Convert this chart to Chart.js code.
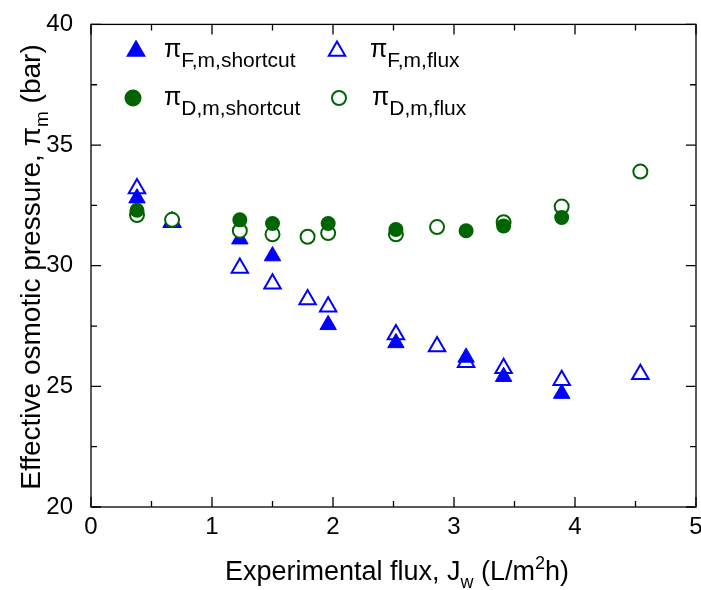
<!DOCTYPE html>
<html>
<head>
<meta charset="utf-8">
<script src="https://cdn.jsdelivr.net/npm/chart.js@4/dist/chart.umd.min.js"></script>
<style>
  html, body { margin: 0; padding: 0; background: #fff; }
  #wrap { width: 701px; height: 590px; }
</style>
</head>
<body>
<div id="wrap"><canvas id="c" width="701" height="590"></canvas></div>
<script>
'use strict';

// flux values J_w (L/m2h) and effective osmotic pressures (bar)
const FS_X = [0.38, 0.67, 1.23, 1.50, 1.96, 2.52, 3.10, 3.41, 3.89];
const FS_Y = [32.8, 31.85, 31.1, 30.4, 27.55, 26.8, 26.2, 25.4, 24.7];

const FF_X = [0.38, 0.67, 1.23, 1.50, 1.79, 1.96, 2.52, 2.86, 3.10, 3.41, 3.89, 4.54];
const FF_Y = [33.2, 31.8, 29.9, 29.25, 28.6, 28.3, 27.15, 26.65, 26.0, 25.75, 25.25, 25.5];

const DS_X = [0.38, 1.23, 1.50, 1.96, 2.52, 3.10, 3.41, 3.89];
const DS_Y = [32.3, 31.9, 31.75, 31.75, 31.5, 31.45, 31.65, 32.0];

const DF_X = [0.38, 0.67, 1.23, 1.50, 1.79, 1.96, 2.52, 2.86, 3.41, 3.89, 4.54];
const DF_Y = [32.1, 31.9, 31.45, 31.3, 31.2, 31.35, 31.3, 31.6, 31.8, 32.45, 33.9];

const X_TICKS = [0, 1, 2, 3, 4, 5];
const Y_TICKS = [20, 25, 30, 35, 40];

const BLUE = '#0000ff';
const GREEN = '#006400';
const FONT = '"Liberation Sans", Arial, sans-serif';

function pts(xs, ys) { return xs.map((x, i) => ({ x, y: ys[i] })); }

// text pieces: {t, s: 'n' | 'sub' | 'sup'}
function richWidth(ctx, parts, size, small) {
  let w = 0;
  parts.forEach(p => {
    ctx.font = (p.s === 'n' ? size : small) + 'px ' + FONT;
    w += ctx.measureText(p.t).width;
  });
  return w;
}
function drawRich(ctx, parts, x, y, size, small, subDy, supDy) {
  parts.forEach(p => {
    ctx.font = (p.s === 'n' ? size : small) + 'px ' + FONT;
    const dy = p.s === 'sub' ? subDy : p.s === 'sup' ? -supDy : 0;
    ctx.fillText(p.t, x, y + dy);
    x += ctx.measureText(p.t).width;
  });
}

const LEGEND = [
  { label: 'F,m,shortcut', style: 'triangle', fill: BLUE, stroke: BLUE, r: 9.5, mx: 136, my: 51, tx: 164, ty: 57 },
  { label: 'D,m,shortcut', style: 'circle', fill: GREEN, stroke: GREEN, r: 7.5, mx: 133, my: 98, tx: 164, ty: 105 },
  { label: 'F,m,flux', style: 'triangle', fill: '#fff', stroke: BLUE, r: 9.5, mx: 337, my: 51, tx: 370, ty: 57 },
  { label: 'D,m,flux', style: 'circle', fill: '#fff', stroke: GREEN, r: 7, mx: 339, my: 98, tx: 372, ty: 105 },
];

const decor = {
  id: 'decor',
  afterDraw(chart) {
    const ctx = chart.ctx;
    const a = chart.chartArea;
    const xs = chart.scales.x, ys = chart.scales.y;
    ctx.save();
    ctx.strokeStyle = '#000';
    ctx.lineWidth = 1.3;
    ctx.strokeRect(a.left, a.top, a.right - a.left, a.bottom - a.top);

    // inward ticks on all four sides
    ctx.beginPath();
    for (let v = 0; v <= 5.001; v += 0.5) {
      const p = xs.getPixelForValue(v);
      const len = Math.abs(v - Math.round(v)) < 1e-6 ? 10 : 6;
      ctx.moveTo(p, a.bottom); ctx.lineTo(p, a.bottom - len);
      ctx.moveTo(p, a.top); ctx.lineTo(p, a.top + len);
    }
    for (let v = 20; v <= 40.001; v += 2.5) {
      const p = ys.getPixelForValue(v);
      const len = Math.abs(v / 5 - Math.round(v / 5)) < 1e-6 ? 10 : 6;
      ctx.moveTo(a.left, p); ctx.lineTo(a.left + len, p);
      ctx.moveTo(a.right, p); ctx.lineTo(a.right - len, p);
    }
    ctx.stroke();

    // x tick labels (drawn here so the last one may run off the edge like the original)
    ctx.fillStyle = '#000';
    ctx.font = '24px ' + FONT;
    ctx.textAlign = 'center';
    ctx.textBaseline = 'top';
    X_TICKS.forEach(v => ctx.fillText(String(v), xs.getPixelForValue(v), a.bottom + 8));

    // legend
    ctx.textBaseline = 'alphabetic';
    ctx.textAlign = 'left';
    LEGEND.forEach(l => {
      ctx.fillStyle = l.fill;
      ctx.strokeStyle = l.stroke;
      ctx.lineWidth = 2;
      ctx.beginPath();
      if (l.style === 'circle') {
        ctx.arc(l.mx, l.my, l.r, 0, Math.PI * 2);
      } else {
        const r = l.r;
        ctx.moveTo(l.mx, l.my - r);
        ctx.lineTo(l.mx + r * 0.866, l.my + r * 0.5);
        ctx.lineTo(l.mx - r * 0.866, l.my + r * 0.5);
        ctx.closePath();
      }
      ctx.fill();
      ctx.stroke();
      ctx.fillStyle = '#000';
      drawRich(ctx, [{ t: 'π', s: 'n' }, { t: l.label, s: 'sub' }], l.tx, l.ty, 25, 21, 10, 0);
    });

    // x axis title
    const xt = [
      { t: 'Experimental flux, J', s: 'n' }, { t: 'w', s: 'sub' },
      { t: ' (L/m', s: 'n' }, { t: '2', s: 'sup' }, { t: 'h)', s: 'n' }
    ];
    const xw = richWidth(ctx, xt, 27, 18);
    drawRich(ctx, xt, 397 - xw / 2, 580, 27, 18, 8, 11);

    // y axis title
    const yt = [
      { t: 'Effective osmotic pressure, π', s: 'n' }, { t: 'm', s: 'sub' },
      { t: ' (bar)', s: 'n' }
    ];
    const yw = richWidth(ctx, yt, 28, 19);
    ctx.translate(40, 267);
    ctx.rotate(-Math.PI / 2);
    drawRich(ctx, yt, -yw / 2, 0, 28, 19, 8, 0);
    ctx.restore();
  }
};

new Chart(document.getElementById('c'), {
  type: 'scatter',
  data: {
    datasets: [
      { label: 'D shortcut', data: pts(DS_X, DS_Y), pointStyle: 'circle', pointRadius: 7.5,
        backgroundColor: GREEN, borderColor: GREEN, borderWidth: 0, order: 0 },
      { label: 'D flux', data: pts(DF_X, DF_Y), pointStyle: 'circle', pointRadius: 7,
        backgroundColor: '#fff', borderColor: GREEN, borderWidth: 2, order: 1 },
      { label: 'F shortcut', data: pts(FS_X, FS_Y), pointStyle: 'triangle', pointRadius: 9.5,
        backgroundColor: BLUE, borderColor: BLUE, borderWidth: 1, order: 2 },
      { label: 'F flux', data: pts(FF_X, FF_Y), pointStyle: 'triangle', pointRadius: 9.5,
        backgroundColor: '#fff', borderColor: BLUE, borderWidth: 2, order: 3 },
    ]
  },
  options: {
    responsive: false,
    animation: false,
    layout: { autoPadding: false, padding: { top: 22, right: 5, left: 0, bottom: 0 } },
    plugins: { legend: { display: false }, tooltip: { enabled: false } },
    scales: {
      x: {
        type: 'linear', min: 0, max: 5,
        afterBuildTicks: s => { s.ticks = X_TICKS.map(v => ({ value: v })); },
        afterFit: s => { s.height = 83; },
        grid: { display: false },
        border: { display: false },
        ticks: { display: false }
      },
      y: {
        type: 'linear', min: 20, max: 40,
        afterBuildTicks: s => { s.ticks = Y_TICKS.map(v => ({ value: v })); },
        afterFit: s => { s.width = 91; },
        grid: { display: false },
        border: { display: false },
        ticks: { color: '#000', font: { family: FONT, size: 24 }, padding: 10 }
      }
    }
  },
  plugins: [decor]
});
</script>
</body>
</html>
